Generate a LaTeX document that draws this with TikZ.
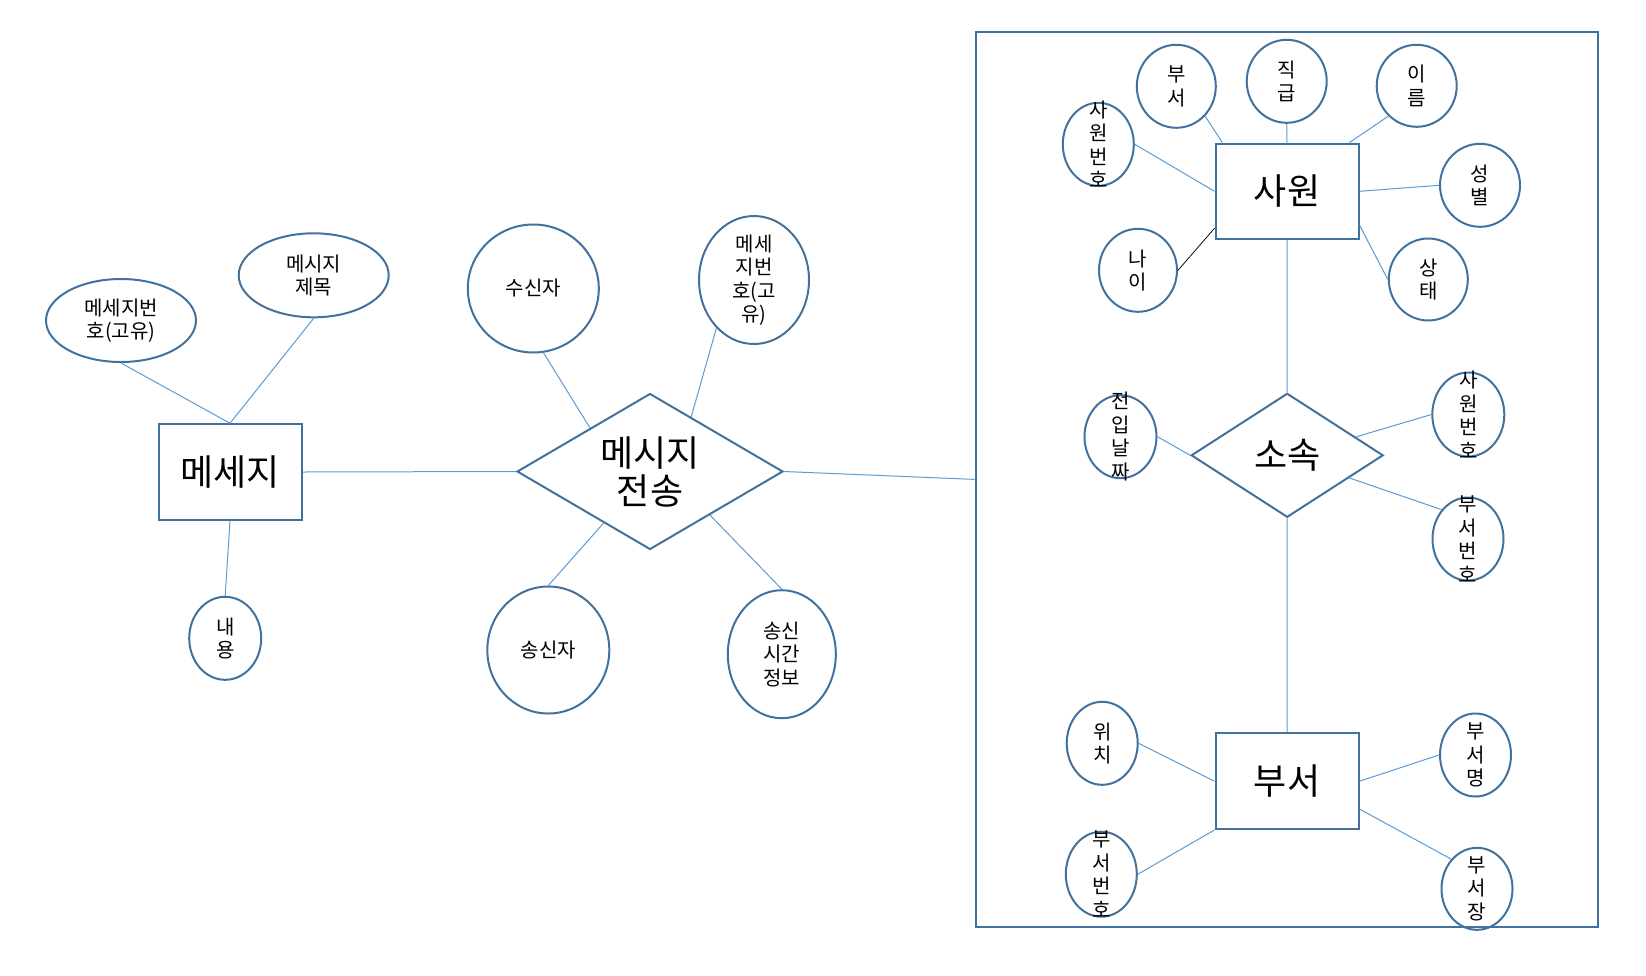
\documentclass[tikz,border=0pt]{standalone}
\usepackage{fontspec}
\setmainfont{Noto Sans CJK KR}
\usetikzlibrary{shapes.geometric}
\definecolor{shapeblue}{HTML}{41719C}
\definecolor{lineblue}{HTML}{5B9BD5}
\tikzset{entity/.style={draw=shapeblue, line width=2pt, minimum width=143pt, minimum height=95.5pt, font=\fontsize{36}{38}\selectfont}}
\tikzset{relation/.style={diamond, draw=shapeblue, line width=2pt, inner sep=0pt, align=center, font=\fontsize{36}{38}\selectfont}}
\tikzset{attr/.style={ellipse, draw=shapeblue, line width=2pt, inner sep=0pt}}
\tikzset{link/.style={draw=lineblue, line width=1pt}}

\begin{document}
\begin{tikzpicture}[x=1pt, y=-1pt, every label/.style={align=center, inner sep=0pt, font=\fontsize{20}{23.5}\selectfont}]
    \useasboundingbox (0,0) rectangle (1646,975);
    % 메세지 / 메시지 전송
    \node[entity] (msg) at (230,472) {메세지};
    \node[attr, minimum width=150pt, minimum height=83pt, label={center:메세지번\\호(고유)}] (msgNo) at (121,320.5) {};
    \node[attr, minimum width=150pt, minimum height=84pt, label={center:메시지\\제목}] (msgTitle) at (313.7,275.3) {};
    \node[attr, minimum width=72pt, minimum height=83pt, label={center:내\\용}] (body) at (225.2,638.3) {};
    \node[relation, aspect=1.7, minimum width=266pt, minimum height=156pt] (send) at (650,471.5) {메시지\\전송};
    \node[attr, minimum width=131pt, minimum height=128pt, label={center:수신자}] (recv) at (533.3,288.5) {};
    \node[attr, minimum width=110pt, minimum height=128pt, label={center:메세\\지번\\호(고\\유)}] (sendNo) at (754,280) {};
    \node[attr, minimum width=122pt, minimum height=127pt, label={center:송신자}] (sender) at (548.3,650) {};
    \node[attr, minimum width=108pt, minimum height=128pt, label={center:송신\\시간\\정보}] (sendTime) at (781.8,654.2) {};
    % 사원 - 소속 - 부서
    \node[draw=shapeblue, line width=2pt, minimum width=622pt, minimum height=895pt] (frame) at (1286.7,479.4) {};
    \node[entity] (emp) at (1287,191.3) {사원};
    \node[attr, minimum width=79pt, minimum height=83pt, label={center:부\\서}] (empDept) at (1176.3,86.3) {};
    \node[attr, minimum width=80pt, minimum height=83pt, label={center:직\\급}] (rank) at (1286.7,81.3) {};
    \node[attr, minimum width=80pt, minimum height=82pt, label={center:이\\름}] (name) at (1416.7,85.8) {};
    \node[attr, minimum width=71pt, minimum height=83pt, label={center:사\\원\\번\\호}] (empNo) at (1098.3,144.3) {};
    \node[attr, minimum width=80pt, minimum height=83pt, label={center:성\\별}] (sex) at (1480,185.3) {};
    \node[attr, minimum width=78pt, minimum height=83pt, label={center:나\\이}] (age) at (1138,270.3) {};
    \node[attr, minimum width=79pt, minimum height=82pt, label={center:상\\태}] (state) at (1428.3,279.5) {};
    \node[relation, aspect=1.55, minimum width=192pt, minimum height=124pt] (belong) at (1287.2,455.3) {소속};
    \node[attr, minimum width=72pt, minimum height=83pt, label={center:전\\입\\날\\짜}] (joinDate) at (1120.5,436.7) {};
    \node[attr, minimum width=72pt, minimum height=84pt, label={center:사\\원\\번\\호}] (belEmpNo) at (1468.3,414.5) {};
    \node[attr, minimum width=71pt, minimum height=83pt, label={center:부\\서\\번\\호}] (belDeptNo) at (1468,539) {};
    \node[entity] (dept) at (1287,781.2) {부서};
    \node[attr, minimum width=71pt, minimum height=83pt, label={center:위\\치}] (loc) at (1102.2,743.3) {};
    \node[attr, minimum width=71pt, minimum height=85pt, label={center:부\\서\\번\\호}] (deptNo) at (1101.3,874.2) {};
    \node[attr, minimum width=71pt, minimum height=83pt, label={center:부\\서\\명}] (deptName) at (1475.5,755) {};
    \node[attr, minimum width=71pt, minimum height=82pt, label={center:부\\서\\장}] (chief) at (1477,888.8) {};

    \draw[link] (msgNo.south) -- (msg.north);
    \draw[link] (msgTitle.south) -- (msg.north);
    \draw[link] (msg.south) -- (body.north);
    \draw[link] (msg.east) -- (send.west);
    \draw[link] (recv.-81) -- (send.144);
    \draw[link] (sendNo.232) -- (send.53);
    \draw[link] (send.228) -- (sender.north);
    \draw[link] (send.-36) -- (sendTime.north);
    \draw[link] (send.east) -- (frame.west);

    \draw[link] (empDept.-46) -- (emp.143);
    \draw[link] (rank.south) -- (emp.north);
    \draw[link] (name.227) -- (emp.38);
    \draw[link] (empNo.east) -- (emp.west);
    \draw[link] (emp.east) -- (sex.west);
    \draw[line width=0.75pt] (age.east) -- (emp.207);
    \draw[link] (emp.-25) -- (state.west);
    \draw[link] (emp.south) -- (belong.north);
    \draw[link] (joinDate.east) -- (belong.west);
    \draw[link] (belong.15) -- (belEmpNo.west);
    \draw[link] (belong.-20) -- (belDeptNo.132);
    \draw[link] (belong.south) -- (dept.north);
    \draw[link] (loc.east) -- (dept.west);
    \draw[link] (dept.east) -- (deptName.west);
    \draw[link] (deptNo.east) -- (dept.south west);
    \draw[link] (dept.-21) -- (chief.131);
\end{tikzpicture}
\end{document}
